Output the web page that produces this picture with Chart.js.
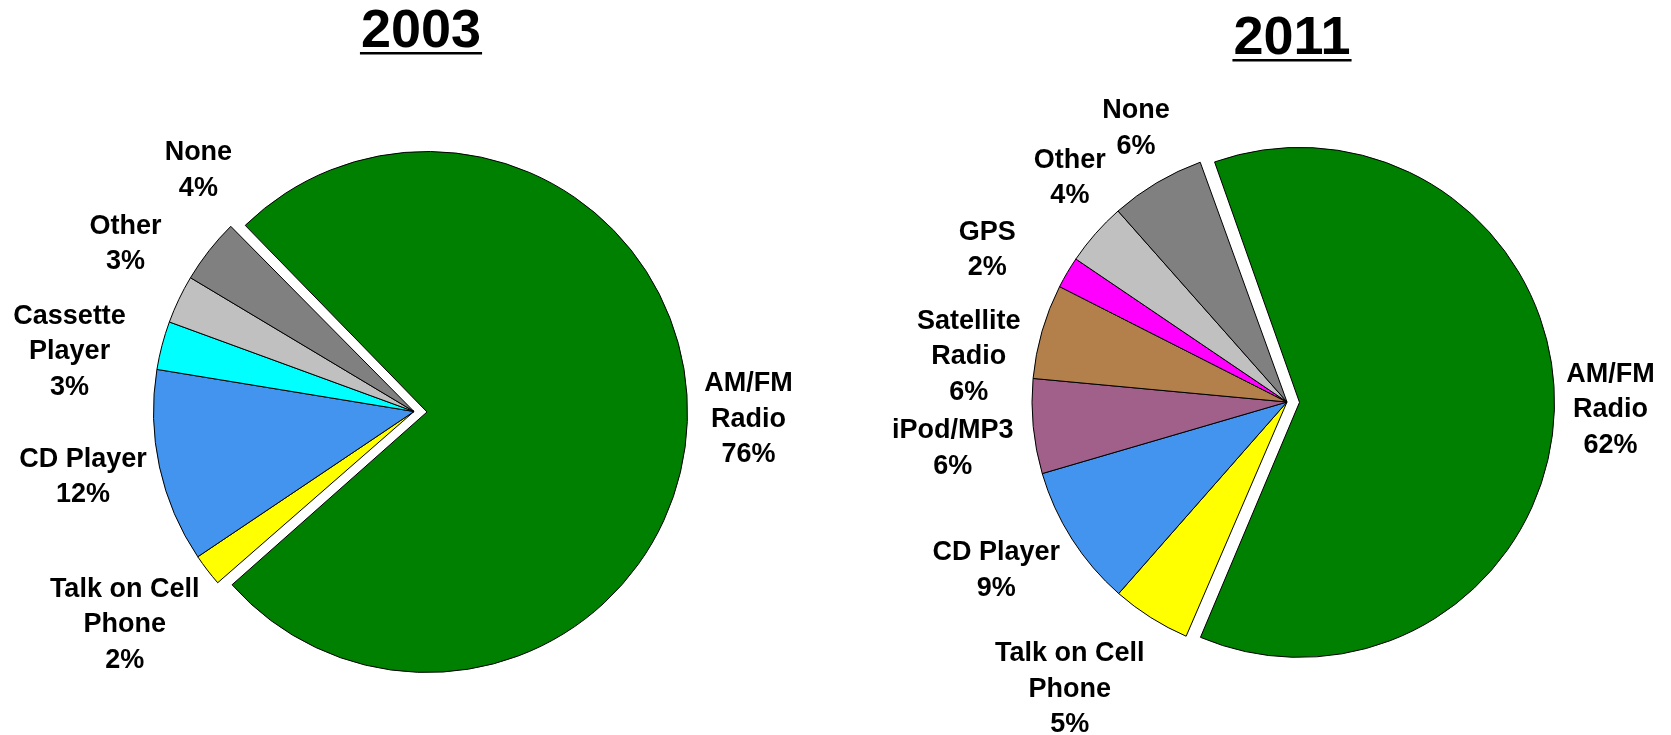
<!DOCTYPE html>
<html>
<head>
<meta charset="utf-8">
<script src="https://cdn.jsdelivr.net/npm/chart.js@4.4.1/dist/chart.umd.min.js"></script>
<style>
  html, body { margin: 0; padding: 0; background: #ffffff; }
  #wrap { position: relative; width: 1671px; height: 735px; overflow: hidden; background: #ffffff; }
  canvas { position: absolute; top: 0; }
  #c2003 { left: 0; }
  #c2011 { left: 836px; }
</style>
</head>
<body>
<div id="wrap">
  <canvas id="c2003" width="836" height="735"></canvas>
  <canvas id="c2011" width="835" height="735"></canvas>
</div>
<script>
// ---------- DATA ----------
const title2003 = '2003';
const categories2003 = [['AM/FM', 'Radio'], ['Talk on Cell', 'Phone'], ['CD Player'], ['Cassette', 'Player'], ['Other'], ['None']];
const values2003 = [76, 2, 12, 3, 3, 4];

const title2011 = '2011';
const categories2011 = [['AM/FM', 'Radio'], ['Talk on Cell', 'Phone'], ['CD Player'], ['iPod/MP3'], ['Satellite', 'Radio'], ['GPS'], ['Other'], ['None']];
const values2011 = [62, 5, 9, 6, 6, 2, 4, 6];

// ---------- STYLES ----------
const colors2003 = ['#008000', '#FFFF00', '#4294EE', '#00FFFF', '#C0C0C0', '#808080'];
const colors2011 = ['#008000', '#FFFF00', '#4294EE', '#A0608A', '#B3804C', '#FF00FF', '#C0C0C0', '#808080'];
// Chart.js moves an arc by offset/4; 52 -> 13px pull-out
const explode2003 = [52, 0, 0, 0, 0, 0];
const explode2011 = [50, 0, 0, 0, 0, 0, 0, 0];
// label placement: angular nudge (deg) from slice middle, and gap beyond the slice's edge (px)
const labelNudge2003 = [-0.8, 1.1, 1.1, -4.9, 4.6, 10.1];
const labelGap2003 = [61, 99, 77, 89, 73, 63];
const labelNudge2011 = [-0.3, 4.8, 2.4, -2.45, -8.05, -3.6, 4.6, 1.8];
const labelGap2011 = [56, 105, 81, 82.5, 66.5, 81, 57, 57.5];

const FONT = '"Liberation Sans", Arial, Helvetica, sans-serif';

// Keep pulled-out slices at the same radius as the others (Chart.js also grows
// large exploded arcs by offset/4; compensate so the slice is only translated).
const keepExplodedRadius = {
  id: 'keepExplodedRadius',
  afterDatasetUpdate(chart, args) {
    const meta = args.meta;
    meta.data.forEach((arc) => {
      const off = (arc.options && arc.options.offset || 0) / 4;
      if (!off) return;
      const fix = 1 - Math.sin(Math.min(Math.PI, arc.circumference || 0));
      arc.outerRadius = arc.outerRadius - off * fix;
    });
  }
};

const sliceLabels = {
  id: 'sliceLabels',
  afterDatasetsDraw(chart, args, opts) {
    const ctx = chart.ctx;
    const meta = chart.getDatasetMeta(0);
    const ds = chart.data.datasets[0];
    const labels = chart.data.labels;
    ctx.save();
    ctx.font = 'bold ' + opts.size + 'px ' + FONT;
    ctx.fillStyle = '#000000';
    ctx.textAlign = 'center';
    ctx.textBaseline = 'middle';
    meta.data.forEach((arc, i) => {
      const p = arc.getProps(['x', 'y', 'startAngle', 'endAngle', 'outerRadius', 'circumference'], true);
      const half = (p.startAngle + p.endAngle) / 2;
      const off = (arc.options.offset || 0) / 4;
      const fix = 1 - Math.sin(Math.min(Math.PI, p.circumference || 0));
      const cx = p.x + Math.cos(half) * off;
      const cy = p.y + Math.sin(half) * off;
      const r = p.outerRadius + off * fix;
      const a = half + opts.nudge[i] * Math.PI / 180;
      const d = r + opts.gap[i];
      const lx = cx + Math.cos(a) * d;
      const ly = cy + Math.sin(a) * d;
      const lab = labels[i];
      const lines = (Array.isArray(lab) ? lab.slice() : [lab]);
      lines.push(ds.data[i] + '%');
      const lh = opts.lineHeight;
      lines.forEach((t, k) => {
        ctx.fillText(t, lx, ly + (k - (lines.length - 1) / 2) * lh);
      });
    });
    ctx.restore();
  }
};

const underlinedTitle = {
  id: 'underlinedTitle',
  afterDraw(chart, args, opts) {
    const ctx = chart.ctx;
    const area = chart.chartArea;
    const x = (area.left + area.right) / 2 + opts.dx;
    ctx.save();
    ctx.font = 'bold ' + opts.size + 'px ' + FONT;
    ctx.fillStyle = '#000000';
    ctx.textAlign = 'center';
    ctx.textBaseline = 'alphabetic';
    ctx.fillText(opts.text, x, opts.baseline);
    const w = ctx.measureText(opts.text).width;
    ctx.fillRect(x - w / 2 - 1, opts.baseline + 5, w + 2, 2.5);
    ctx.restore();
  }
};

function makePie(id, labels, values, colors, explode, rotation, radius, padding, nudge, gap, title, titleDx, titleBaseline) {
  return new Chart(document.getElementById(id), {
    type: 'pie',
    data: {
      labels: labels,
      datasets: [{
        data: values,
        backgroundColor: colors,
        borderColor: '#000000',
        borderWidth: 1,
        offset: explode,
        hoverOffset: 0
      }]
    },
    options: {
      responsive: false,
      animation: false,
      devicePixelRatio: 1,
      rotation: rotation,
      radius: radius,
      layout: { padding: padding },
      events: [],
      plugins: {
        legend: { display: false },
        tooltip: { enabled: false },
        title: { display: false },
        sliceLabels: { size: 27, lineHeight: 35.5, nudge: nudge, gap: gap },
        underlinedTitle: { text: title, size: 54, dx: titleDx, baseline: titleBaseline }
      }
    },
    plugins: [keepExplodedRadius, sliceLabels, underlinedTitle]
  });
}

makePie('c2003', categories2003, values2003, colors2003, explode2003, -44.7, 260.5,
  { top: 88, bottom: 0, left: 0, right: 8 }, labelNudge2003, labelGap2003, title2003, 7, 47);
makePie('c2011', categories2011, values2011, colors2011, explode2011, -19.9, 255,
  { top: 69, bottom: 0, left: 67, right: 0 }, labelNudge2011, labelGap2011, title2011, 5, 54);
</script>
</body>
</html>
